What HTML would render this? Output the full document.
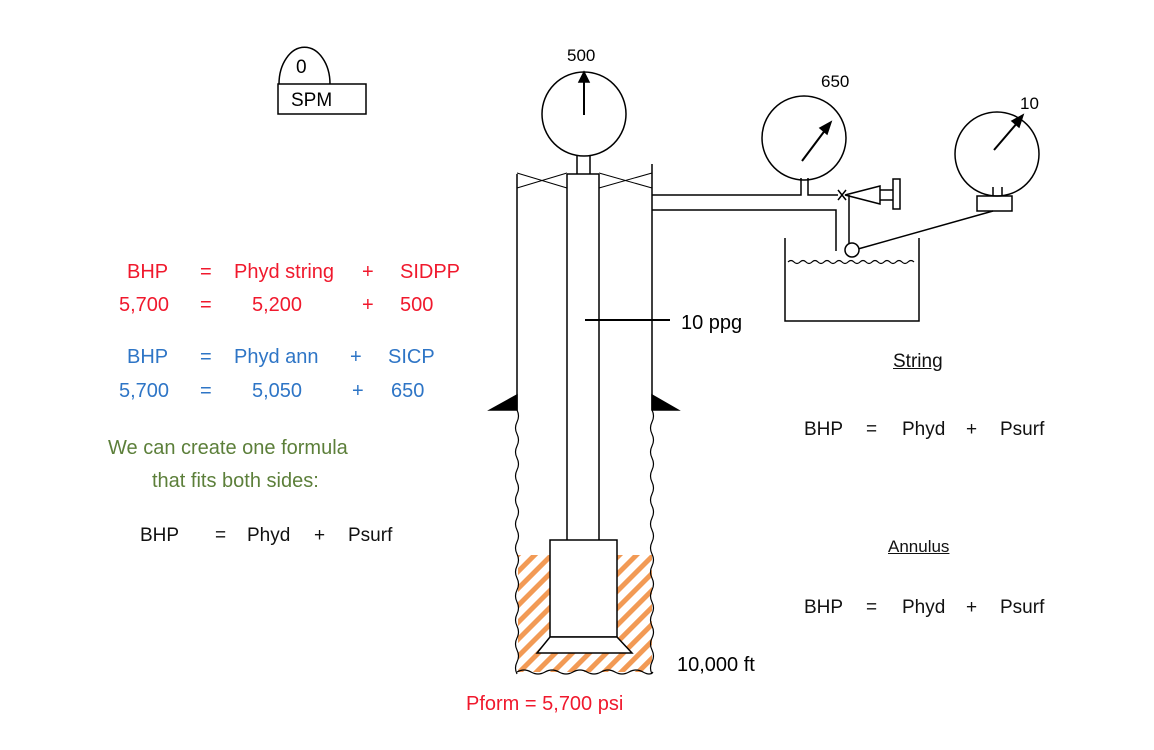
<!DOCTYPE html>
<html><head><style>
body{margin:0;background:#fff;width:1154px;height:750px;overflow:hidden;position:relative;font-family:"Liberation Sans",sans-serif}
.t{position:absolute;white-space:nowrap;line-height:1}
.r{color:#f0192d;font-size:20px}
.b{color:#2e75c6;font-size:20px}
.g{color:#5c7f3a;font-size:20px}
.k{color:#111;font-size:19px}
</style></head><body>
<svg width="1154" height="750" style="position:absolute;left:0;top:0" fill="none" stroke="#000" stroke-width="1.5">
<defs>
<pattern id="h" width="12" height="12" patternUnits="userSpaceOnUse" patternTransform="rotate(45)">
<rect width="5" height="12" fill="#f29a55" stroke="none"/></pattern>
</defs>
<path d="M279 84 A25 36 0 0 1 330 84"/>
<rect x="278" y="84" width="88" height="30"/>
<rect x="518" y="555" width="134" height="117" fill="url(#h)" stroke="none"/>
<rect x="550" y="540" width="67" height="97" fill="#fff"/>
<path d="M550 637 L617 637 L632 653 L537 653 Z" fill="#fff"/>
<line x1="567" y1="174" x2="567" y2="540"/><line x1="599" y1="174" x2="599" y2="540"/>
<line x1="567" y1="174" x2="599" y2="174"/>
<path d="M577 174 V155 M590 174 V155"/>
<circle cx="584" cy="114" r="42"/>
<line x1="584" y1="115" x2="584" y2="78" stroke-width="2"/><path d="M579 82 L584 72 L589 82Z" fill="#000"/>
<line x1="517" y1="174" x2="517" y2="410"/>
<line x1="652" y1="164" x2="652" y2="410"/>
<path d="M517 173 L567 188 M517 188 L567 173 M599 173 L652 188 M599 188 L652 173" stroke-width="1"/>
<path d="M517 410 q3 6 0 12 q-3 6 0 12 q3 6 0 12 q-3 6 0 12 q3 6 0 12 q-3 6 0 12 q3 6 0 12 q-3 6 0 12 q3 6 0 12 q-3 6 0 12 q3 6 0 12 q-3 6 0 12 q3 6 0 12 q-3 6 0 12 q3 6 0 12 q-3 6 0 12 q3 6 0 12 q-3 6 0 12 q3 6 0 12 q-3 6 0 12 q3 6 0 12 q-3 6 0 12" stroke-width="1.2"/>
<path d="M652 410 q3 6 0 12 q-3 6 0 12 q3 6 0 12 q-3 6 0 12 q3 6 0 12 q-3 6 0 12 q3 6 0 12 q-3 6 0 12 q3 6 0 12 q-3 6 0 12 q3 6 0 12 q-3 6 0 12 q3 6 0 12 q-3 6 0 12 q3 6 0 12 q-3 6 0 12 q3 6 0 12 q-3 6 0 12 q3 6 0 12 q-3 6 0 12 q3 6 0 12 q-3 6 0 12" stroke-width="1.2"/>
<path d="M517 672 q7 -4 14 0 q7 4 14 0 q7 -4 14 0 q7 4 14 0 q7 -4 14 0 q7 4 14 0 q7 -4 14 0 q7 4 14 0 q7 -4 14 0 q7 4 10 0" stroke-width="1.2"/>
<path d="M517 395 L517 410 L490 410 Z M652 395 L652 410 L678 410 Z" fill="#000"/>
<line x1="585" y1="320" x2="670" y2="320" stroke-width="2"/>
<path d="M652 195 H801 V178 M808 178 V195 H838"/>
<path d="M652 210 H836 V251 M849 195 V251"/>
<circle cx="804" cy="138" r="42"/>
<line x1="802" y1="161" x2="826" y2="129" stroke-width="2"/><path d="M820 128 L831 122 L827 134Z" fill="#000"/>
<path d="M838 190 L846 200 M846 190 L838 200"/>
<path d="M845 195 L880 186 L880 204 Z M880 190 H893 V200 H880 M893 179 H900 V209 H893 Z"/>
<circle cx="997" cy="154" r="42"/>
<line x1="994" y1="150" x2="1018" y2="122" stroke-width="2"/><path d="M1012 121 L1023 115 L1019 127Z" fill="#000"/>
<path d="M993 196 V187 M1002 196 V187"/>
<rect x="977" y="196" width="35" height="15"/>
<line x1="993" y1="211" x2="858" y2="249"/>
<circle cx="852" cy="250" r="7" fill="#fff"/>
<path d="M785 238 V321 H919 V238"/>
<path d="M788 262 q3 -3 6 0 q3 3 6 0 q3 -3 6 0 q3 3 6 0 q3 -3 6 0 q3 3 6 0 q3 -3 6 0 q3 3 6 0 q3 -3 6 0 q3 3 6 0 q3 -3 6 0 q3 3 6 0 q3 -3 6 0 q3 3 6 0 q3 -3 6 0 q3 3 6 0 q3 -3 6 0 q3 3 6 0 q3 -3 6 0 q3 3 6 0 q3 -3 6 0" stroke-width="1.2"/>
</svg>
<div class="t" style="left:296px;top:58px;font-size:19px">0</div>
<div class="t" style="left:291px;top:91px;font-size:19px">SPM</div>
<div class="t" style="left:567px;top:47px;font-size:17px">500</div>
<div class="t" style="left:821px;top:73px;font-size:17px">650</div>
<div class="t" style="left:1020px;top:95px;font-size:17px">10</div>
<div class="t" style="left:681px;top:313px;font-size:20px">10 ppg</div>
<div class="t" style="left:677px;top:655px;font-size:20px">10,000 ft</div>
<div class="t" style="left:466px;top:694px;font-size:20px;color:#f0192d">Pform = 5,700 psi</div>
<div class="t r" style="left:127px;top:262px">BHP</div><div class="t r" style="left:200px;top:262px">=</div><div class="t r" style="left:234px;top:262px">Phyd string</div><div class="t r" style="left:362px;top:262px">+</div><div class="t r" style="left:400px;top:262px">SIDPP</div>
<div class="t r" style="left:119px;top:295px">5,700</div><div class="t r" style="left:200px;top:295px">=</div><div class="t r" style="left:252px;top:295px">5,200</div><div class="t r" style="left:362px;top:295px">+</div><div class="t r" style="left:400px;top:295px">500</div>
<div class="t b" style="left:127px;top:347px">BHP</div><div class="t b" style="left:200px;top:347px">=</div><div class="t b" style="left:234px;top:347px">Phyd ann</div><div class="t b" style="left:350px;top:347px">+</div><div class="t b" style="left:388px;top:347px">SICP</div>
<div class="t b" style="left:119px;top:381px">5,700</div><div class="t b" style="left:200px;top:381px">=</div><div class="t b" style="left:252px;top:381px">5,050</div><div class="t b" style="left:352px;top:381px">+</div><div class="t b" style="left:391px;top:381px">650</div>
<div class="t g" style="left:108px;top:438px">We can create one formula</div>
<div class="t g" style="left:152px;top:471px">that fits both sides:</div>
<div class="t k" style="left:140px;top:526px">BHP</div><div class="t k" style="left:215px;top:526px">=</div><div class="t k" style="left:247px;top:526px">Phyd</div><div class="t k" style="left:314px;top:526px">+</div><div class="t k" style="left:348px;top:526px">Psurf</div>
<div class="t k" style="left:893px;top:352px;text-decoration:underline">String</div>
<div class="t k" style="left:804px;top:420px">BHP</div><div class="t k" style="left:866px;top:420px">=</div><div class="t k" style="left:902px;top:420px">Phyd</div><div class="t k" style="left:966px;top:420px">+</div><div class="t k" style="left:1000px;top:420px">Psurf</div>
<div class="t k" style="left:888px;top:538px;text-decoration:underline;font-size:17px">Annulus</div>
<div class="t k" style="left:804px;top:598px">BHP</div><div class="t k" style="left:866px;top:598px">=</div><div class="t k" style="left:902px;top:598px">Phyd</div><div class="t k" style="left:966px;top:598px">+</div><div class="t k" style="left:1000px;top:598px">Psurf</div>
</body></html>
